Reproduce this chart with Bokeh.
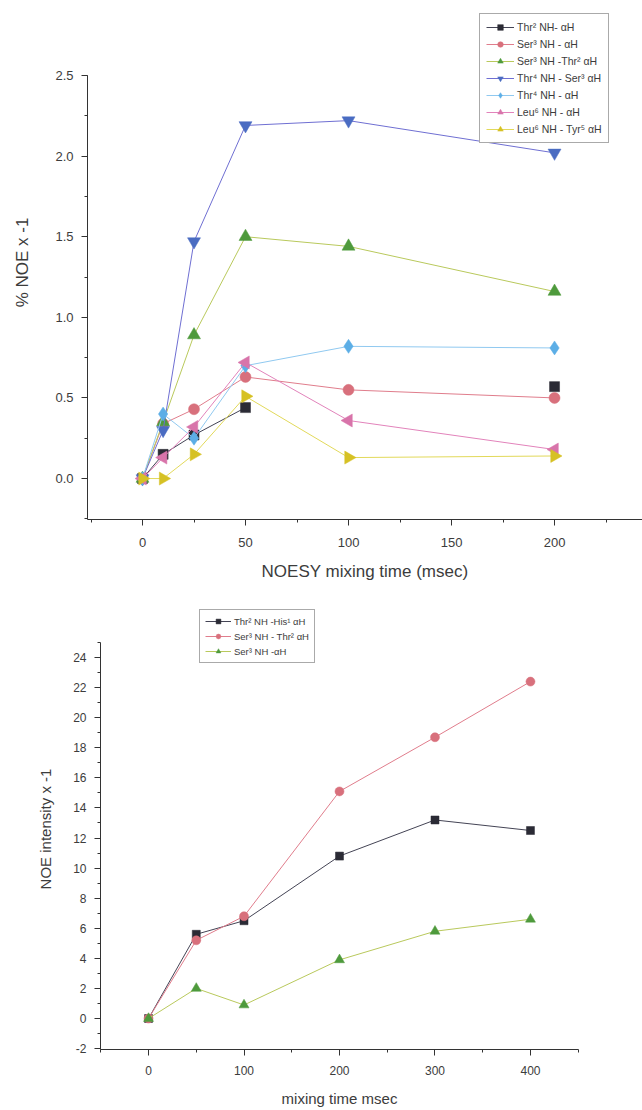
import numpy as np
from bokeh.plotting import figure
from bokeh.models import (Range1d, SingleIntervalTicker, Legend, LegendItem,
                          PrintfTickFormatter, ColumnDataSource)
from bokeh.embed import file_html
from bokeh.resources import INLINE

# ---------------- data: top chart ----------------
t1 = [0, 10, 25, 50, 100, 200]
thr2_nh_ah = [0.0, 0.15, 0.27, 0.44, float("nan"), 0.57]
ser3_nh_ah = [0.0, 0.34, 0.43, 0.63, 0.55, 0.50]
ser3_nh_thr2 = [0.0, 0.35, 0.89, 1.50, 1.44, 1.16]
thr4_nh_ser3 = [0.0, 0.30, 1.47, 2.19, 2.22, 2.02]
thr4_nh_ah = [0.0, 0.40, 0.25, 0.70, 0.82, 0.81]
leu6_nh_ah = [0.0, 0.13, 0.32, 0.72, 0.36, 0.18]
leu6_nh_tyr5 = [0.0, 0.0, 0.15, 0.51, 0.13, 0.14]
labels1 = ["Thr² NH- αH", "Ser³ NH - αH", "Ser³ NH -Thr² αH", "Thr⁴ NH - Ser³ αH",
           "Thr⁴ NH - αH", "Leu⁶ NH - αH", "Leu⁶ NH - Tyr⁵ αH"]

# ---------------- data: bottom chart ----------------
t2 = [0, 50, 100, 200, 300, 400]
thr2_nh_his1 = [0.0, 5.6, 6.5, 10.8, 13.2, 12.5]
ser3_nh_thr2_b = [0.0, 5.2, 6.8, 15.1, 18.7, 22.4]
ser3_nh_ah_b = [0.0, 2.0, 0.9, 3.9, 5.8, 6.6]
labels2 = ["Thr² NH -His¹ αH", "Ser³ NH - Thr² αH", "Ser³ NH -αH"]

FONT = "Liberation Sans"
AX = "#333333"
TXT = "#3c3c3c"


def style_axes(p, tick_size, title_size):
    p.grid.visible = False
    p.outline_line_color = None
    for ax in p.axis:
        ax.axis_line_color = AX
        ax.major_tick_line_color = AX
        ax.minor_tick_line_color = AX
        ax.major_tick_in = 0
        ax.major_tick_out = 6
        ax.minor_tick_in = 0
        ax.minor_tick_out = 3
        ax.major_label_text_font = FONT
        ax.major_label_text_font_size = tick_size
        ax.major_label_text_color = TXT
        ax.axis_label_text_font = FONT
        ax.axis_label_text_font_size = title_size
        ax.axis_label_text_font_style = "normal"
        ax.axis_label_text_color = TXT


# ================= top chart =================
p1 = figure(width=642, height=600, output_backend="svg", toolbar_location=None,
            x_range=Range1d(-26.7, 242.7), y_range=Range1d(-0.254, 2.934),
            min_border_left=87, min_border_right=0, min_border_top=5, min_border_bottom=81)
p1.background_fill_color = "white"
p1.border_fill_color = "white"

series1 = [
    (thr2_nh_ah, "square", 10, 0.0, "#2b2b35", "#444455"),
    (ser3_nh_ah, "circle", 11, 0.0, "#d8707c", "#e07d8c"),
    (ser3_nh_thr2, "triangle", 13, 0.0, "#4e9a3c", "#b9c95c"),
    (thr4_nh_ser3, "inverted_triangle", 13, 0.0, "#4a6cc2", "#6f6fd2"),
    (thr4_nh_ah, "diamond", 14, 0.0, "#5caee6", "#90c9f0"),
    (leu6_nh_ah, "triangle", 13, np.pi / 2, "#d874aa", "#e283bb"),
    (leu6_nh_tyr5, "triangle", 13, -np.pi / 2, "#d6c124", "#e2d95a"),
]
items1 = []
for (ys, mk, sz, ang, mc, lc), lab in zip(series1, labels1):
    src = ColumnDataSource(dict(x=t1, y=ys, a=[ang] * len(t1)))
    r_line = p1.line("x", "y", source=src, line_color=lc, line_width=1)
    r_pt = p1.scatter("x", "y", source=src, marker=mk, size=sz, angle="a",
                      fill_color=mc, line_color=mc, line_width=0.5)
    items1.append(LegendItem(label=lab, renderers=[r_line, r_pt], index=0))

p1.xaxis.ticker = SingleIntervalTicker(interval=50, num_minor_ticks=2)
p1.yaxis.ticker = SingleIntervalTicker(interval=0.5, num_minor_ticks=2)
p1.yaxis.formatter = PrintfTickFormatter(format="%.1f")
p1.xaxis.formatter = PrintfTickFormatter(format="%d")
p1.yaxis.bounds = (-0.254, 2.5)
p1.xaxis.axis_label = "NOESY mixing time (msec)"
p1.yaxis.axis_label = "% NOE x -1"
style_axes(p1, "13px", "17px")
p1.xaxis.major_label_standoff = 12
p1.xaxis.axis_label_standoff = 12
p1.yaxis.major_label_standoff = 8
p1.yaxis.axis_label_standoff = 20

leg1 = Legend(items=items1, location=(392, 376))
leg1.label_text_font = FONT
leg1.label_text_font_size = "10.5px"
leg1.label_text_color = TXT
leg1.label_height = 14
leg1.glyph_height = 14
leg1.glyph_width = 28
leg1.spacing = 3
leg1.padding = 6
leg1.margin = 0
leg1.label_standoff = 3
leg1.border_line_color = "#555555"
leg1.border_line_width = 1
leg1.background_fill_color = "white"
leg1.background_fill_alpha = 1
p1.add_layout(leg1, "center")

# ================= bottom chart =================
p2 = figure(width=642, height=510, output_backend="svg", toolbar_location=None,
            x_range=Range1d(-50.3, 450.3), y_range=Range1d(-2.06, 27.26),
            min_border_left=100, min_border_right=64, min_border_top=8, min_border_bottom=61)
p2.background_fill_color = "white"
p2.border_fill_color = "white"

series2 = [
    (thr2_nh_his1, "square", 8, "#2b2b35", "#444455"),
    (ser3_nh_thr2_b, "circle", 9, "#d8707c", "#e07d8c"),
    (ser3_nh_ah_b, "triangle", 10, "#4e9a3c", "#b9c95c"),
]
items2 = []
for (ys, mk, sz, mc, lc), lab in zip(series2, labels2):
    r_line = p2.line(t2, ys, line_color=lc, line_width=1)
    r_pt = p2.scatter(t2, ys, marker=mk, size=sz,
                      fill_color=mc, line_color=mc, line_width=0.5)
    items2.append(LegendItem(label=lab, renderers=[r_line, r_pt]))

p2.xaxis.ticker = SingleIntervalTicker(interval=100, num_minor_ticks=2)
p2.yaxis.ticker = SingleIntervalTicker(interval=2, num_minor_ticks=2)
p2.yaxis.formatter = PrintfTickFormatter(format="%d")
p2.xaxis.formatter = PrintfTickFormatter(format="%d")
p2.yaxis.bounds = (-2.06, 25)
p2.xaxis.axis_label = "mixing time msec"
p2.yaxis.axis_label = "NOE intensity x -1"
style_axes(p2, "12px", "15px")
p2.xaxis.major_label_standoff = 10
p2.xaxis.axis_label_standoff = 12
p2.yaxis.major_label_standoff = 8
p2.yaxis.axis_label_standoff = 16

leg2 = Legend(items=items2, location=(99, 386))
leg2.label_text_font = FONT
leg2.label_text_font_size = "9.5px"
leg2.label_text_color = TXT
leg2.label_height = 12
leg2.glyph_height = 12
leg2.glyph_width = 26
leg2.spacing = 3
leg2.padding = 5
leg2.margin = 0
leg2.label_standoff = 3
leg2.border_line_color = "#555555"
leg2.border_line_width = 1
leg2.background_fill_color = "white"
leg2.background_fill_alpha = 1
p2.add_layout(leg2, "center")

open("out.html", "w").write(file_html([p1, p2], INLINE))
